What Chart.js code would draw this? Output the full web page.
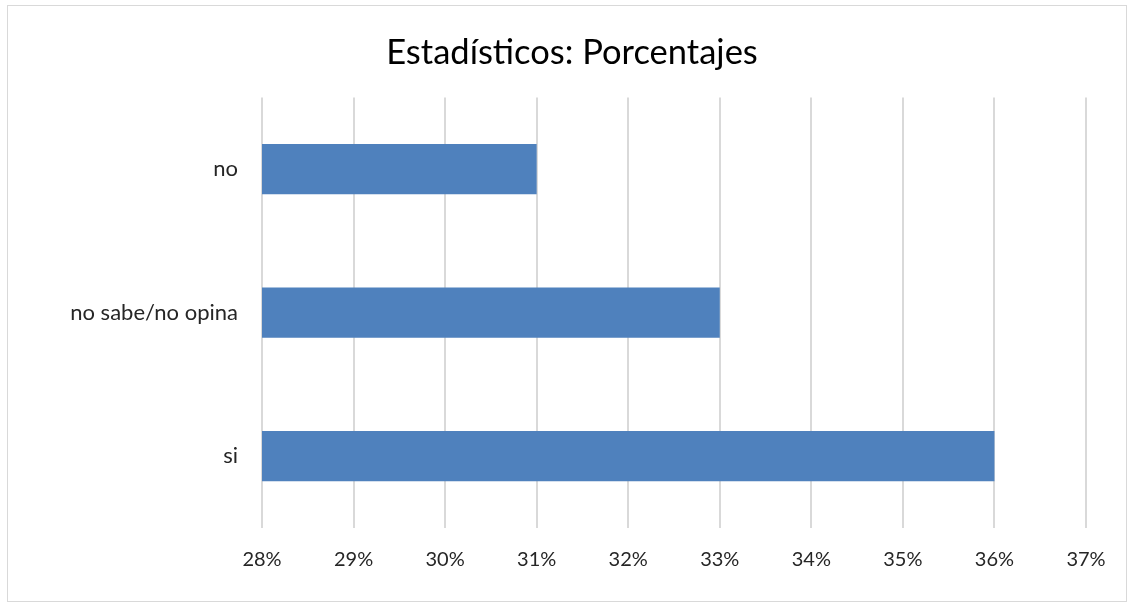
<!DOCTYPE html>
<html>
<head>
<meta charset="utf-8">
<script src="https://cdn.jsdelivr.net/npm/chart.js@4/dist/chart.umd.min.js"></script>
<style>
  html, body { margin: 0; padding: 0; background: #fff; }
  #wrap { position: relative; width: 1130px; height: 605px; }
  #frame { position: absolute; left: 7px; top: 5px; width: 1120px; height: 597px; border: 1px solid #d9d9d9; box-sizing: border-box; pointer-events: none; }
  canvas { position: absolute; left: 0; top: 0; }
</style>
</head>
<body>
<div id="wrap">
  <canvas id="chart" width="1130" height="605"></canvas>
  <div id="frame"></div>
</div>
<script>
// Respuestas y porcentajes
const categorias = ['no', 'no sabe/no opina', 'si'];
const porcentajes = [31, 33, 36];
const ejeMin = 28;
const ejeMax = 37;

const fuente = "Lato, 'Open Sans', sans-serif";
const colorTexto = '#262626';

const ctx = document.getElementById('chart');
new Chart(ctx, {
    type: 'bar',
    data: {
        labels: categorias,
        datasets: [{
            label: 'Porcentaje',
            data: porcentajes,
            backgroundColor: '#4f81bd',
            borderWidth: 0,
            barPercentage: 0.35,
            categoryPercentage: 1
        }]
    },
    options: {
        indexAxis: 'y',
        responsive: false,
        animation: false,
        // el padding izquierdo centra el titulo sobre el marco
        layout: { padding: { left: 58, right: 44, top: 0, bottom: 0 } },
        plugins: {
            legend: { display: false },
            tooltip: { enabled: false },
            title: {
                display: true,
                text: 'Estadísticos: Porcentajes',
                color: '#000',
                font: { family: fuente, size: 34.5, weight: 'normal' },
                padding: { top: 32, bottom: 24 }
            }
        },
        scales: {
            x: {
                min: ejeMin,
                max: ejeMax,
                ticks: {
                    stepSize: 1,
                    padding: 20,
                    color: colorTexto,
                    font: { family: fuente, size: 20 },
                    callback: v => v + '%'
                },
                grid: { color: '#d9d9d9', lineWidth: 2, drawTicks: false },
                border: { display: false },
                afterFit: s => { s.height = 77; }
            },
            y: {
                ticks: {
                    padding: 24,
                    color: colorTexto,
                    font: { family: fuente, size: 22 }
                },
                grid: { display: false, drawTicks: false },
                border: { display: false },
                afterFit: s => { s.width = 204; }
            }
        }
    }
});
</script>
</body>
</html>
